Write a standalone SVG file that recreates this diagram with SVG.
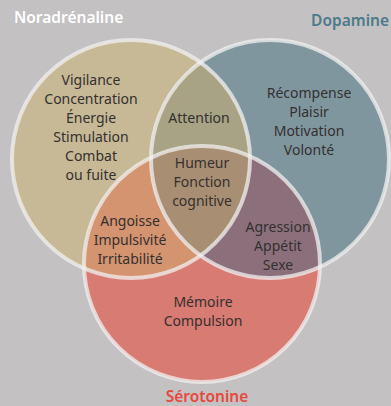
<svg xmlns="http://www.w3.org/2000/svg" width="391" height="406" viewBox="0 0 391 406">
<style>
.t{font-family:"Noto Sans","DejaVu Sans",sans-serif;font-size:14px;fill:#34302f;text-anchor:middle}
.h{font-family:"Noto Sans","DejaVu Sans",sans-serif;font-size:15.5px;font-weight:600}
.ring{fill:none;stroke:#f2f0f0;stroke-opacity:0.75;stroke-width:4}
</style>
<defs>
<clipPath id="cL"><circle cx="131" cy="159" r="119"/></clipPath>
<clipPath id="cR"><circle cx="270" cy="159" r="119"/></clipPath>
<clipPath id="cB"><circle cx="202" cy="264" r="118"/></clipPath>
</defs>
<rect width="391" height="406" fill="#c3c1c2"/>
<g id="fills">
<circle cx="131" cy="159" r="119" fill="#c7b995"/>
<circle cx="270" cy="159" r="119" fill="#80969f"/>
<circle cx="202" cy="264" r="118" fill="#d87b73"/>
<g clip-path="url(#cL)"><circle cx="270" cy="159" r="119" fill="#a7a384"/></g>
<g clip-path="url(#cL)"><circle cx="202" cy="264" r="118" fill="#d4946f"/></g>
<g clip-path="url(#cR)"><circle cx="202" cy="264" r="118" fill="#8b707c"/></g>
<g clip-path="url(#cL)"><g clip-path="url(#cR)"><circle cx="202" cy="264" r="118" fill="#a88f73"/></g></g>
</g>
<g id="rings">
<circle class="ring" cx="131" cy="159" r="119"/>
<circle class="ring" cx="270" cy="159" r="119"/>
<circle class="ring" cx="202" cy="264" r="118"/>
</g>
<g id="noradrenaline">
<text class="h" x="14" y="23" fill="#ffffff">Noradrénaline</text>
<text class="t" x="91" y="85">Vigilance</text>
<text class="t" x="91" y="104">Concentration</text>
<text class="t" x="91" y="123">Énergie</text>
<text class="t" x="91" y="142">Stimulation</text>
<text class="t" x="91" y="161">Combat</text>
<text class="t" x="91" y="180">ou fuite</text>
</g>
<g id="dopamine">
<text class="h" x="389" y="26" fill="#4d7a8a" text-anchor="end">Dopamine</text>
<text class="t" x="309" y="98">Récompense</text>
<text class="t" x="309" y="117">Plaisir</text>
<text class="t" x="309" y="136">Motivation</text>
<text class="t" x="309" y="155">Volonté</text>
</g>
<g id="serotonine">
<text class="h" x="207" y="402" fill="#e8473c" text-anchor="middle">Sérotonine</text>
<text class="t" x="203" y="307">Mémoire</text>
<text class="t" x="203" y="326">Compulsion</text>
</g>
<g id="attention"><text class="t" x="199" y="123">Attention</text></g>
<g id="centre">
<text class="t" x="202" y="168">Humeur</text>
<text class="t" x="202" y="187">Fonction</text>
<text class="t" x="202" y="206">cognitive</text>
</g>
<g id="nor-sero">
<text class="t" x="130" y="226">Angoisse</text>
<text class="t" x="130" y="245">Impulsivité</text>
<text class="t" x="130" y="264">Irritabilité</text>
</g>
<g id="dopa-sero">
<text class="t" x="278" y="232">Agression</text>
<text class="t" x="278" y="251">Appétit</text>
<text class="t" x="278" y="270">Sexe</text>
</g>
</svg>
